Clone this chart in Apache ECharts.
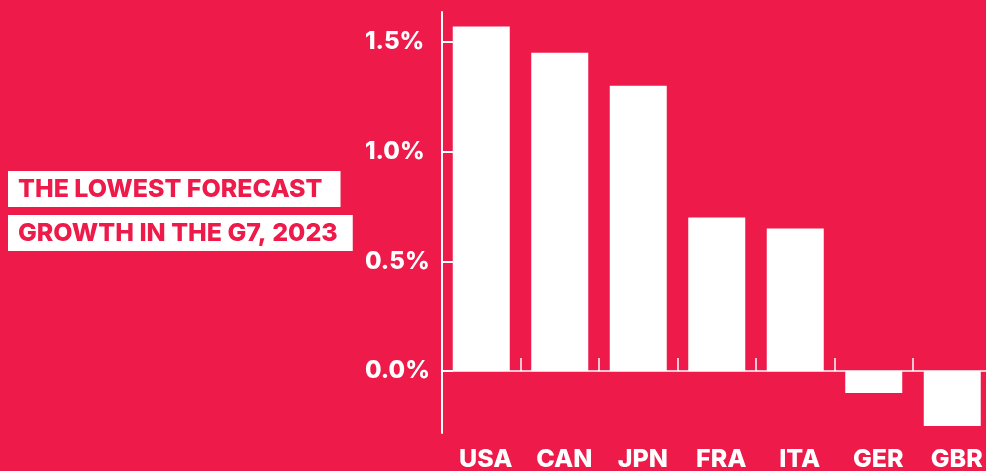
<!DOCTYPE html>
<html>
<head>
<meta charset="utf-8">
<script src="https://cdn.jsdelivr.net/npm/echarts@6/dist/echarts.min.js"></script>
<style>
html,body{margin:0;padding:0;background:#ED1A4A;}
#chart{width:986px;height:471px;}
</style>
</head>
<body>
<div id="chart"></div>
<script>
const categories = ['USA', 'CAN', 'JPN', 'FRA', 'ITA', 'GER', 'GBR'];
const growth = [1.57, 1.45, 1.30, 0.70, 0.65, -0.10, -0.25];
const tickValues = [0, 0.5, 1.0, 1.5];
const titleLines = ['THE LOWEST FORECAST', 'GROWTH IN THE G7, 2023'];

const RED = '#ED1A4A';
const FONT = 'Inter, Roboto, sans-serif';

const chart = echarts.init(document.getElementById('chart'));
chart.setOption({
  backgroundColor: RED,
  animation: false,
  title: [
    {
      text: titleLines[0], left: 8, top: 171,
      backgroundColor: '#fff', padding: [6, 18, 5, 10],
      textStyle: { color: RED, fontFamily: FONT, fontWeight: 800, fontSize: 25, lineHeight: 25 }
    },
    {
      text: titleLines[1], left: 8, top: 215,
      backgroundColor: '#fff', padding: [6, 15, 5, 10],
      textStyle: { color: RED, fontFamily: FONT, fontWeight: 800, fontSize: 25, lineHeight: 25 }
    }
  ],
  grid: { left: 442, top: 12, width: 549.5, height: 421, containLabel: false, outerBoundsMode: 'none' },
  xAxis: [
    {
      type: 'category', data: categories, position: 'bottom',
      axisLine: { show: true, onZero: true, lineStyle: { color: '#fff', width: 1.5 } },
      axisTick: { show: true, inside: true, length: 13, lineStyle: { color: '#fff', width: 1.5 } },
      axisLabel: { show: false },
      splitLine: { show: false }
    },
    {
      type: 'category', data: categories, position: 'bottom',
      axisLine: { show: false, onZero: false },
      axisTick: { show: false },
      axisLabel: { show: true, color: '#fff', fontFamily: FONT, fontWeight: 800, fontSize: 25, margin: 14, padding: [0, 0, 0, 9] },
      splitLine: { show: false }
    }
  ],
  yAxis: {
    type: 'value', min: -0.282, max: 1.636,
    axisLine: { show: true, lineStyle: { color: '#fff', width: 2 } },
    axisTick: { show: true, inside: true, length: 11, customValues: tickValues, lineStyle: { color: '#fff', width: 2 } },
    axisLabel: {
      show: true, customValues: tickValues, color: '#fff', fontFamily: FONT, fontWeight: 800, fontSize: 24,
      margin: 77, align: 'left',
      formatter: v => v.toFixed(1) + '%'
    },
    splitLine: { show: false }
  },
  series: [{
    type: 'bar', data: growth, xAxisIndex: 0, barWidth: 57,
    itemStyle: { color: '#fff' }
  }]
});
</script>
</body>
</html>
